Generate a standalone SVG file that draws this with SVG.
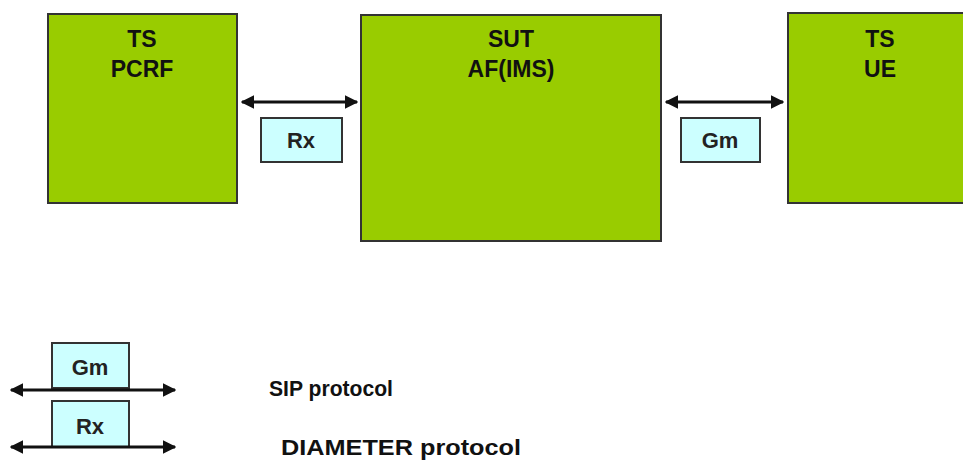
<svg xmlns="http://www.w3.org/2000/svg" width="963" height="461" viewBox="0 0 963 461">
<defs>
<marker id="ah" viewBox="0 0 10 10" refX="9" refY="5" markerWidth="4.5" markerHeight="4.5" orient="auto-start-reverse" markerUnits="strokeWidth">
<path d="M0,0 L10,5 L0,10 z" fill="#111"/>
</marker>
</defs>
<style>
.node{fill:#99cc00;stroke:#333;stroke-width:2}
.lbl{fill:#ccffff;stroke:#333;stroke-width:2}
.nt{font-family:"Liberation Sans",Arial,sans-serif;font-weight:bold;font-size:23px;fill:#111;text-anchor:middle}
.lt{font-family:"Liberation Sans",Arial,sans-serif;font-size:22px;fill:#222;text-anchor:middle}
.lg{font-family:"Liberation Sans",Arial,sans-serif;font-weight:bold;font-size:22px;fill:#111}
.ar{stroke:#111;stroke-width:3;fill:none;marker-start:url(#ah);marker-end:url(#ah)}
</style>
<rect width="963" height="461" fill="#fff"/>
<g id="ts-pcrf">
<rect class="node" x="48" y="14" width="189" height="189"/>
<text class="nt" x="142" y="47">TS</text>
<text class="nt" x="142" y="77">PCRF</text>
</g>
<g id="sut">
<rect class="node" x="361" y="15" width="300" height="226"/>
<text class="nt" x="511" y="47">SUT</text>
<text class="nt" x="511" y="77">AF(IMS)</text>
</g>
<g id="ts-ue">
<rect class="node" x="788" y="13" width="180" height="190"/>
<text class="nt" x="880" y="47">TS</text>
<text class="nt" x="880" y="77">UE</text>
</g>
<g id="connectors">
<line class="ar" x1="242" y1="102" x2="357" y2="102"/>
<line class="ar" x1="666" y1="102" x2="783" y2="102"/>
</g>
<g id="rx-label">
<rect class="lbl" x="261" y="118" width="81" height="44"/>
<text class="lt" x="301" y="148" font-weight="bold">Rx</text>
</g>
<g id="gm-label">
<rect class="lbl" x="681" y="118" width="79" height="44"/>
<text class="lt" x="720" y="148" font-weight="bold">Gm</text>
</g>
<g id="legend">
<rect class="lbl" x="52" y="343" width="77" height="45"/>
<text class="lt" x="90" y="375" font-weight="bold">Gm</text>
<line class="ar" x1="11" y1="390" x2="175" y2="390"/>
<rect class="lbl" x="52" y="401" width="77" height="46"/>
<text class="lt" x="90" y="434" font-weight="bold">Rx</text>
<line class="ar" x1="11" y1="447" x2="175" y2="447"/>
<text class="lg" x="269" y="396" textLength="124" lengthAdjust="spacingAndGlyphs">SIP protocol</text>
<text class="lg" x="281" y="455" textLength="240" lengthAdjust="spacingAndGlyphs">DIAMETER protocol</text>
</g>
</svg>
